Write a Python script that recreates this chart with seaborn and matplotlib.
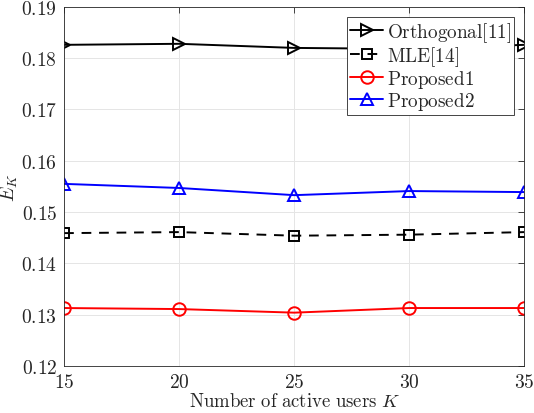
import numpy as np
import pandas as pd
import matplotlib
matplotlib.use("Agg")
import matplotlib.pyplot as plt
import seaborn as sns

# data
users = [15, 20, 25, 30, 35]
orthogonal = [0.1826, 0.1828, 0.1820, 0.1818, 0.1826]
mle = [0.1459, 0.1461, 0.1454, 0.1456, 0.1461]
proposed1 = [0.1313, 0.1311, 0.1304, 0.1313, 0.1313]
proposed2 = [0.1555, 0.1547, 0.1533, 0.1541, 0.1539]

y_ticks = [0.12, 0.13, 0.14, 0.15, 0.16, 0.17, 0.18, 0.19]

sns.set_style("white")
plt.rcParams["mathtext.fontset"] = "cm"
plt.rcParams["font.family"] = ["DejaVu Serif"]

fig = plt.figure(figsize=(5.34, 4.14), dpi=100)
ax = fig.add_axes([0.12, 0.1135, 0.862, 0.8675])

series = [
    ("Orthogonal[11]", orthogonal, "black", ">", "-", 9),
    ("MLE[14]", mle, "black", "s", "--", 7),
    ("Proposed1", proposed1, "red", "o", "-", 9),
    ("Proposed2", proposed2, "blue", "^", "-", 9),
]

for name, vals, col, mk, ls, ms in series:
    df = pd.DataFrame({"K": users, "E": vals})
    sns.lineplot(data=df, x="K", y="E", ax=ax, color=col, marker=mk,
                 linestyle=ls, linewidth=1.4, markersize=ms,
                 markerfacecolor="none", markeredgecolor=col,
                 markeredgewidth=1.4, label=r"$\mathrm{%s}$" % name)
    if ls == "--":
        ax.lines[-1].set_dashes((5, 4))

ax.set_xlim(15, 35)
ax.set_ylim(0.12, 0.19)
ax.set_xticks(users)
ax.set_xticklabels([r"$\mathrm{%d}$" % u for u in users])
ax.set_yticks(y_ticks)
ax.set_yticklabels([r"$\mathrm{%.2f}$" % t for t in y_ticks])
ax.tick_params(axis="both", direction="in", length=4, width=0.6,
               labelsize=14, colors="#262626", top=True, right=True,
               labelcolor="#262626", pad=5)
ax.grid(True, color="#e5e5e5", linewidth=0.7)
for sp in ax.spines.values():
    sp.set_color("#262626")
    sp.set_linewidth(0.6)

ax.set_xlabel(r"$\mathrm{Number\ of\ active\ users}\ K$", fontsize=13.5,
              color="#262626", labelpad=1)
ax.set_ylabel(r"$E_K$", fontsize=14, color="#262626")
ax.yaxis.set_label_coords(-0.095, 0.5)

leg = ax.legend(loc="upper right", fontsize=13.8, frameon=True, fancybox=False,
                borderpad=0.15, labelspacing=0.0, handlelength=1.7,
                handletextpad=0.2, borderaxespad=0.55)
leg.get_frame().set_edgecolor("#262626")
leg.get_frame().set_linewidth(0.6)
leg.get_frame().set_alpha(1)

fig.savefig("out.png", dpi=100)
